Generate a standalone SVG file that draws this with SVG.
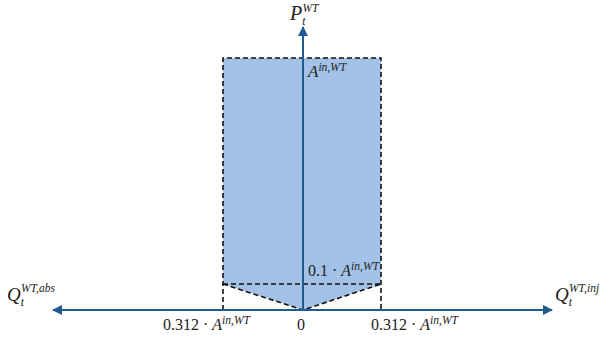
<svg xmlns="http://www.w3.org/2000/svg" width="600" height="340" viewBox="0 0 600 340">
<defs>
<style>
.ax{stroke:#1f5b8e;stroke-width:2;fill:none}
.dash{stroke:#111;stroke-width:1.6;stroke-dasharray:5,3;fill:none}
.t{font-family:"Liberation Serif",serif;font-size:16px;fill:#222}
.i{font-style:italic}
.s{font-size:11.5px;font-style:italic}
</style>
<marker id="ah" viewBox="0 0 10 10" refX="9" refY="5" markerWidth="5" markerHeight="5" orient="auto" markerUnits="strokeWidth">
<path d="M0,0 L10,5 L0,10 z" fill="#1f5b8e"/>
</marker>
</defs>
<g id="region">
<polygon points="223,58 381,58 381,284 303,310 223,284" fill="#a4c2e8"/>
<path class="dash" d="M223,310 V58 H381 V310"/>
<path class="dash" d="M223,284 H381"/>
<path class="dash" d="M223,284 L303,310 L381,284"/>
</g>
<g id="connectors">
<line class="ax" x1="303" y1="310" x2="303" y2="27" marker-end="url(#ah)"/>
<line class="ax" x1="303" y1="310" x2="53" y2="310" marker-end="url(#ah)"/>
<line class="ax" x1="303" y1="310" x2="552" y2="310" marker-end="url(#ah)"/>
</g>
<g id="labels">
<text class="t" x="290" y="20"><tspan class="i" font-size="20">P</tspan><tspan class="s" font-size="13" dy="5">t</tspan><tspan class="s" font-size="13" dx="-3" dy="-13">WT</tspan></text>
<text class="t" x="308" y="77"><tspan class="i" font-size="17">A</tspan><tspan class="s" dy="-6">in,WT</tspan></text>
<text class="t" x="308" y="276">0.1 · <tspan class="i">A</tspan><tspan class="s" dy="-6">in,WT</tspan></text>
<text class="t" x="163" y="330">0.312 · <tspan class="i">A</tspan><tspan class="s" dy="-6">in,WT</tspan></text>
<text class="t" x="371" y="330">0.312 · <tspan class="i">A</tspan><tspan class="s" dy="-6">in,WT</tspan></text>
<text class="t" x="297" y="330">0</text>
<text class="t" x="7" y="301"><tspan class="i" font-size="19">Q</tspan><tspan class="s" font-size="13" dy="5">t</tspan><tspan class="s" dx="-3" dy="-14">WT,abs</tspan></text>
<text class="t" x="555" y="301"><tspan class="i" font-size="19">Q</tspan><tspan class="s" font-size="13" dy="5">t</tspan><tspan class="s" dx="-3" dy="-14">WT,inj</tspan></text>
</g>
</svg>
